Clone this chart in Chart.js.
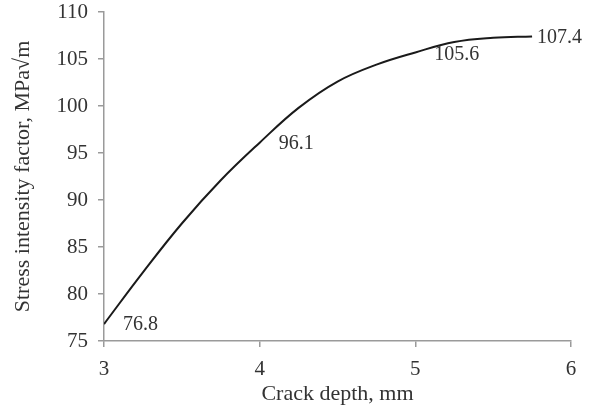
<!DOCTYPE html>
<html>
<head>
<meta charset="utf-8">
<script src="https://cdn.jsdelivr.net/npm/chart.js@4"></script>
<style>
  html, body { margin: 0; padding: 0; background: #fff; }
  #wrap { width: 590px; height: 409px; }
</style>
</head>
<body>
<div id="wrap"><canvas id="c" width="590" height="409"></canvas></div>
<script>
const crackDepth = [3.0, 3.25, 3.5, 3.75, 4.0, 4.25, 4.5, 4.75, 5.0, 5.25, 5.5, 5.75];
const stressFactor = [76.8, 82.3, 87.5, 92.1, 96.1, 99.8, 102.6, 104.4, 105.7, 106.8, 107.25, 107.4];
const labelledDepth = [3.0, 4.0, 5.0, 5.75];
const labelledValue = [76.8, 96.1, 105.6, 107.4];
const xTicks = [3, 4, 5, 6];
const yTicks = [75, 80, 85, 90, 95, 100, 105, 110];

const FONT = '"Liberation Serif", "Times New Roman", serif';
const TEXT = '#333333';
const AXIS = '#9a9a9a';

const labelPlugin = {
  id: 'pointLabels',
  afterDatasetsDraw(chart) {
    const ctx = chart.ctx;
    const xs = chart.scales.x, ys = chart.scales.y;
    ctx.save();
    ctx.font = '20px ' + FONT;
    ctx.fillStyle = TEXT;
    ctx.textBaseline = 'middle';
    ctx.textAlign = 'left';
    labelledDepth.forEach((d, i) => {
      const px = xs.getPixelForValue(d);
      const py = ys.getPixelForValue(labelledValue[i]);
      const dx = (i === labelledDepth.length - 1) ? 5 : 19;
      ctx.fillText(labelledValue[i].toFixed(1), px + dx, py + 1);
    });
    ctx.restore();
  }
};

new Chart(document.getElementById('c'), {
  type: 'scatter',
  data: {
    datasets: [{
      data: crackDepth.map((x, i) => ({ x: x, y: stressFactor[i] })),
      showLine: true,
      borderColor: '#1a1a1a',
      borderWidth: 2,
      pointRadius: 0,
      tension: 0.4,
      fill: false
    }]
  },
  options: {
    responsive: false,
    animation: false,
    events: [],
    layout: { padding: { left: 0, right: 19, top: 12, bottom: 0 } },
    plugins: { legend: { display: false }, tooltip: { enabled: false } },
    scales: {
      x: {
        type: 'linear',
        min: 3, max: 6,
        afterBuildTicks(s) { s.ticks = xTicks.map(v => ({ value: v })); },
        afterFit(s) { s.height = 68; },
        grid: { display: true, drawOnChartArea: false, drawTicks: true, tickLength: 6, color: AXIS, lineWidth: 1.5 },
        border: { display: true, color: AXIS, width: 1.5 },
        ticks: { color: TEXT, font: { family: FONT, size: 21 }, padding: 10, maxRotation: 0 },
        title: { display: true, text: 'Crack depth, mm', color: TEXT, font: { family: FONT, size: 22 }, padding: { top: 0, bottom: 2 } }
      },
      y: {
        type: 'linear',
        min: 75, max: 110,
        afterBuildTicks(s) { s.ticks = yTicks.map(v => ({ value: v })); },
        afterFit(s) { s.width = 104; s.paddingTop = 0; s.paddingBottom = 0; },
        grid: { display: true, drawOnChartArea: false, drawTicks: true, tickLength: 6, color: AXIS, lineWidth: 1.5 },
        border: { display: true, color: AXIS, width: 1.5 },
        ticks: { color: TEXT, font: { family: FONT, size: 21 }, padding: 10 },
        title: { display: true, text: 'Stress intensity factor, MPa√m', color: TEXT, font: { family: FONT, size: 22 }, padding: { top: 10, bottom: 0 } }
      }
    }
  },
  plugins: [labelPlugin]
});
</script>
</body>
</html>
